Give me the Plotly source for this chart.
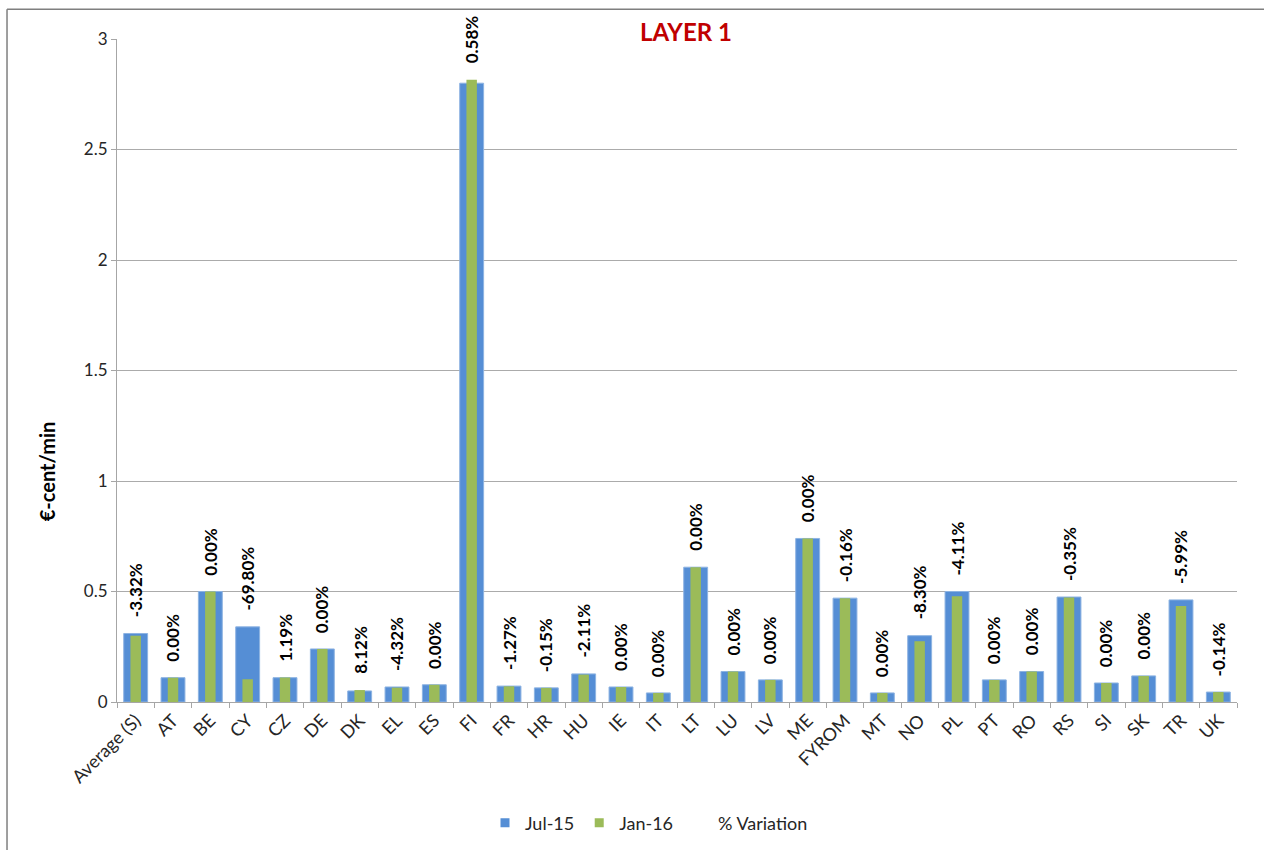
import plotly.graph_objects as go

categories = ["Average (S)", "AT", "BE", "CY", "CZ", "DE", "DK", "EL", "ES", "FI",
              "FR", "HR", "HU", "IE", "IT", "LT", "LU", "LV", "ME", "FYROM",
              "MT", "NO", "PL", "PT", "RO", "RS", "SI", "SK", "TR", "UK"]
jul15 = [0.31, 0.11, 0.50, 0.34, 0.11, 0.24, 0.05, 0.068, 0.078, 2.80,
         0.072, 0.064, 0.127, 0.068, 0.041, 0.61, 0.138, 0.10, 0.74, 0.47,
         0.041, 0.30, 0.50, 0.10, 0.138, 0.475, 0.086, 0.118, 0.462, 0.045]
jan16 = [0.30, 0.11, 0.50, 0.103, 0.111, 0.24, 0.054, 0.065, 0.078, 2.816,
         0.071, 0.064, 0.124, 0.068, 0.041, 0.61, 0.138, 0.10, 0.74, 0.469,
         0.041, 0.275, 0.479, 0.10, 0.138, 0.473, 0.086, 0.118, 0.434, 0.045]
variation = ["-3.32%", "0.00%", "0.00%", "-69.80%", "1.19%", "0.00%", "8.12%", "-4.32%", "0.00%", "0.58%",
             "-1.27%", "-0.15%", "-2.11%", "0.00%", "0.00%", "0.00%", "0.00%", "0.00%", "0.00%", "-0.16%",
             "0.00%", "-8.30%", "-4.11%", "0.00%", "0.00%", "-0.35%", "0.00%", "0.00%", "-5.99%", "-0.14%"]

FONT = "Lato, 'Open Sans', sans-serif"
BLUE = "#558ED5"
GREEN = "#9BBB59"

fig = go.Figure()
fig.add_trace(go.Bar(x=categories, y=jul15, name="Jul-15", width=0.64, showlegend=False,
                     marker=dict(color=BLUE, line=dict(color="#8DB3E2", width=1))))
fig.add_trace(go.Bar(x=categories, y=jan16, name="Jan-16", width=0.28, showlegend=False,
                     marker=dict(color=GREEN, line=dict(width=0))))
# legend entries
fig.add_trace(go.Scatter(x=[categories[0]], y=[None], name="Jul-15", mode="markers",
                         marker=dict(symbol="square", size=9, color=BLUE)))
fig.add_trace(go.Scatter(x=[categories[0]], y=[None], name="Jan-16", mode="markers",
                         marker=dict(symbol="square", size=9, color=GREEN)))
fig.add_trace(go.Scatter(x=[categories[0]], y=[None], name="% Variation", mode="lines",
                         line=dict(color="rgba(0,0,0,0)", width=0)))

for c, a, b, t in zip(categories, jul15, jan16, variation):
    fig.add_annotation(x=c, y=max(a, b), text="<b>" + t + "</b>", textangle=-90,
                       showarrow=False, yanchor="bottom", xanchor="center", yshift=14,
                       font=dict(family=FONT, size=17, color="#000000"))

fig.add_annotation(x=0.508, y=1.012, xref="paper", yref="paper", text="<b>LAYER 1</b>",
                   showarrow=False, xanchor="center", yanchor="middle",
                   font=dict(family=FONT, size=24, color="#C00000"))

fig.add_annotation(x=-0.0625, y=0.348, xref="paper", yref="paper", text="<b>€-cent/min</b>",
                   showarrow=False, xanchor="center", yanchor="middle", textangle=-90,
                   font=dict(family=FONT, size=20, color="#000000"))

# chart frame (left and top edges visible)
fig.add_shape(type="line", xref="paper", yref="paper", x0=-0.0982, x1=-0.0982, y0=-0.3, y1=1.045,
              line=dict(color="#7F7F7F", width=1.5))
fig.add_shape(type="line", xref="paper", yref="paper", x0=-0.0982, x1=1.1, y0=1.045, y1=1.045,
              line=dict(color="#7F7F7F", width=1.5))

fig.update_layout(
    width=1264, height=850,
    margin=dict(l=117, r=27, t=39, b=148, autoexpand=False),
    paper_bgcolor="white", plot_bgcolor="white",
    barmode="overlay",
    font=dict(family=FONT, size=16, color="#262626"),
    showlegend=True,
    legend=dict(orientation="h", x=0.475, xanchor="center", y=-0.1825, yanchor="middle",
                font=dict(family=FONT, size=18, color="#262626"), itemwidth=30,
                traceorder="normal"),
    xaxis=dict(type="category", range=[-0.5, len(categories) - 0.5],
               showgrid=False, showline=True, linecolor="#A6A6A6",
               ticks="outside", tickson="boundaries", ticklen=5, tickcolor="#A6A6A6",
               tickangle=-45, automargin=False,
               tickfont=dict(family=FONT, size=18, color="#262626")),
    yaxis=dict(range=[0, 3], dtick=0.5, showgrid=True, gridcolor="#ABABAB", gridwidth=1,
               showline=True, linecolor="#A6A6A6", ticks="outside", ticklen=5, tickcolor="#A6A6A6",
               zeroline=False, automargin=False,
               tickfont=dict(family=FONT, size=17, color="#262626")),
)

fig.write_html("out.html")
